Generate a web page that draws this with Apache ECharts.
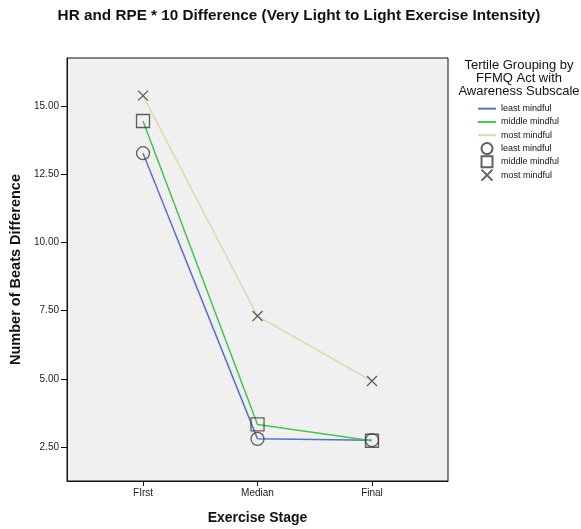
<!DOCTYPE html>
<html><head><meta charset="utf-8">
<script src="https://cdn.jsdelivr.net/npm/echarts@6/dist/echarts.min.js"></script>
<style>html,body{margin:0;padding:0;background:#fff}#c{width:581px;height:529px}</style>
</head><body><div id="c"></div>
<script>
const categories = ['FIrst', 'Median', 'Final'];
const leastMindful = [13.27, 2.80, 2.75];
const middleMindful = [14.45, 3.33, 2.73];
const mostMindful = [15.38, 7.30, 4.92];
const yTicks = [2.5, 5, 7.5, 10, 12.5, 15];
const groupNames = ['least mindful', 'middle mindful', 'most mindful'];

const toXY = arr => arr.map((v, i) => [i + 1, v]);
const lineColors = ['#5a6fc8', '#45c250', '#ddd9ab'];
const crossPath = 'path://M0,0L10,10M10,0L0,10';
const squarePath = 'path://M0,0L10,0L10,10L0,10Z';
const symbols = ['circle', squarePath, crossPath];
const sizes = [13, 13, 10];
const allData = [leastMindful, middleMindful, mostMindful];

const series = [];
allData.forEach((d, i) => {
  series.push({
    name: groupNames[i], type: 'line', data: toXY(d), symbol: 'none', showSymbol: false,
    lineStyle: { color: lineColors[i], width: 1.5 }, itemStyle: { color: lineColors[i] },
    z: 2, animation: false
  });
});
allData.forEach((d, i) => {
  series.push({
    name: groupNames[i] + ' ', type: 'scatter', data: toXY(d), symbol: symbols[i],
    symbolSize: sizes[i], symbolKeepAspect: true,
    itemStyle: { color: 'rgba(0,0,0,0)', borderColor: '#3a3a3a', borderWidth: 1.3 },
    z: 3, animation: false
  });
});

const font = 'Liberation Sans, Arial, sans-serif';
const chart = echarts.init(document.getElementById('c'), null, { renderer: 'canvas' });
chart.setOption({
  animation: false,
  backgroundColor: '#ffffff',
  title: [
    { text: 'HR and RPE * 10 Difference (Very Light to Light Exercise Intensity)', left: 299, top: 8, textAlign: 'center', padding: 0,
      textStyle: { fontFamily: font, fontSize: 15.3, fontWeight: 'bold', color: '#111' } },
    { text: 'Tertile Grouping by\nFFMQ Act with\nAwareness Subscale', left: 519, top: 59, textAlign: 'center', padding: 0,
      textStyle: { fontFamily: font, fontSize: 13, fontWeight: 'normal', color: '#111', lineHeight: 13, align: 'center' } }
  ],
  legend: {
    orient: 'vertical', left: 477, top: 102, itemGap: 0, itemWidth: 18, itemHeight: 11, padding: 0,
    symbolKeepAspect: true,
    textStyle: { fontFamily: font, fontSize: 9, color: '#111', lineHeight: 13.3 },
    formatter: n => n.trim(),
    data: [
      { name: groupNames[0], itemStyle: { opacity: 0 } },
      { name: groupNames[1], itemStyle: { opacity: 0 } },
      { name: groupNames[2], itemStyle: { opacity: 0 } },
      { name: groupNames[0] + ' ' }, { name: groupNames[1] + ' ' }, { name: groupNames[2] + ' ' }
    ]
  },
  grid: { left: 67, right: 133, top: 58, bottom: 48, show: true, backgroundColor: '#f0f0f0', borderColor: '#111', borderWidth: 1, outerBoundsMode: 'none', containLabel: false },
  xAxis: {
    type: 'value', min: 0.336, max: 3.664,
    name: 'Exercise Stage', nameLocation: 'middle', nameGap: 30,
    nameTextStyle: { fontFamily: font, fontSize: 14, fontWeight: 'bold', color: '#111' },
    axisLine: { lineStyle: { color: '#111' } },
    axisTick: { show: true, length: 5, customValues: [1, 2, 3], lineStyle: { color: '#111' } },
    axisLabel: { customValues: [1, 2, 3], formatter: v => categories[Math.round(v) - 1] || '', fontFamily: font, fontSize: 10, color: '#222', margin: 7 },
    splitLine: { show: false }
  },
  yAxis: {
    type: 'value', min: 1.255, max: 16.76,
    name: 'Number of Beats Difference', nameLocation: 'middle', nameGap: 42, nameRotate: 90,
    nameTextStyle: { fontFamily: font, fontSize: 14.5, fontWeight: 'bold', color: '#111' },
    axisLine: { show: true, lineStyle: { color: '#111' } },
    axisTick: { show: true, length: 6, customValues: yTicks, lineStyle: { color: '#111' } },
    axisLabel: { customValues: yTicks, formatter: v => v.toFixed(2), fontFamily: font, fontSize: 10, color: '#222', margin: 8 },
    splitLine: { show: false }
  },
  series: series
});
</script></body></html>
